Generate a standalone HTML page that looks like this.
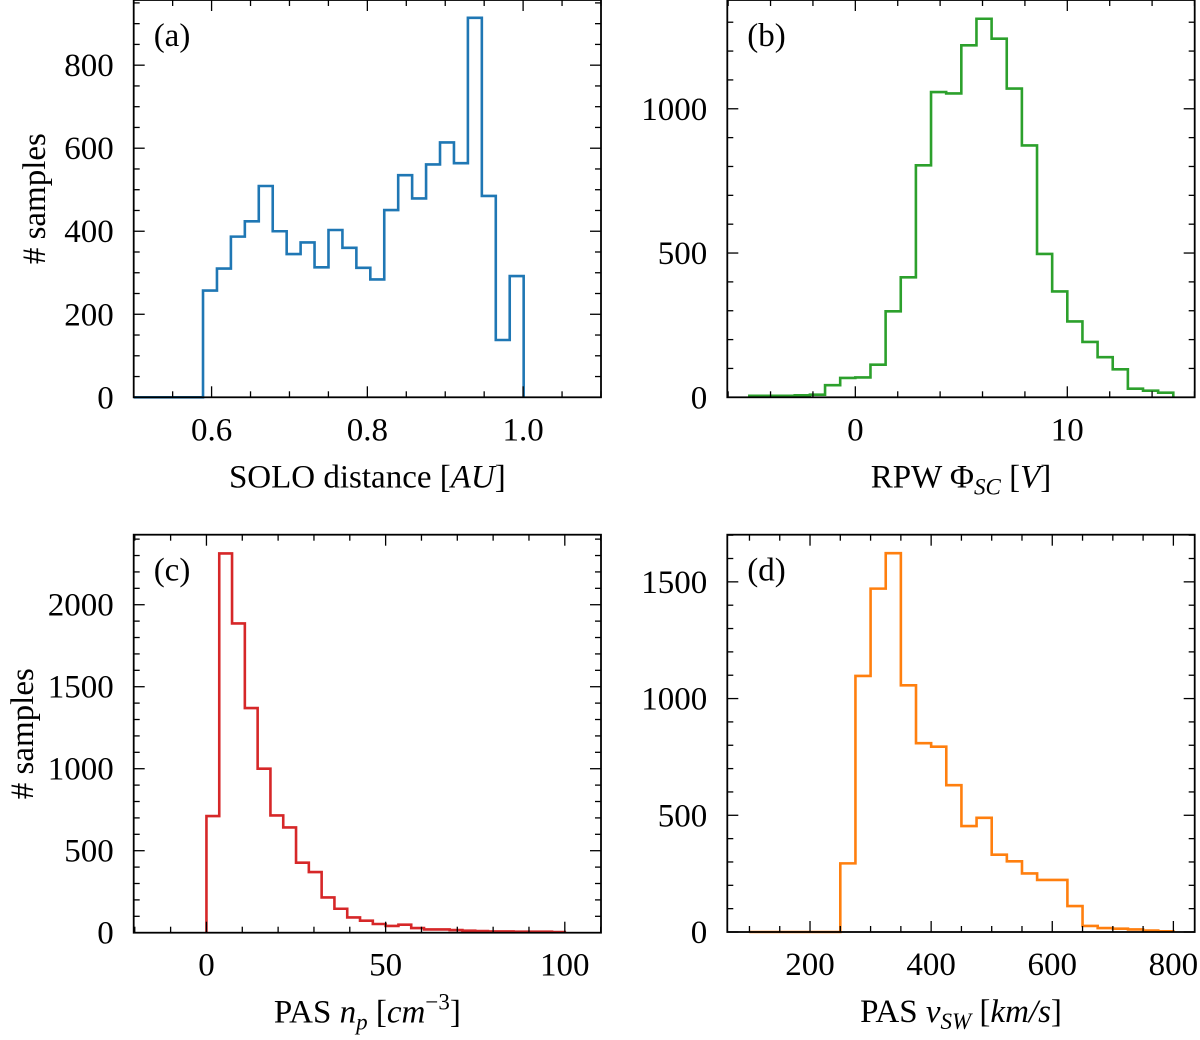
<!DOCTYPE html>
<html><head><meta charset="utf-8"><style>
html,body{margin:0;padding:0;background:#fff;}
svg, svg text{font-family:"Liberation Serif","Times New Roman",serif;}
</style></head><body>
<svg id="fig" width="1200" height="1035" viewBox="0 0 1200 1035" xmlns="http://www.w3.org/2000/svg" font-family="Liberation Serif, serif">
</svg>
<script>
// ---- data ----
const aCounts = [257,310,387,424,509,400,345,373,313,403,360,312,284,451,535,479,561,614,564,914,485,138,292];
const bCounts = [5,5,5,7,9,42,67,69,113,298,416,804,1058,1053,1220,1312,1243,1070,873,497,367,263,192,139,97,30,23,16];
const cCounts = [711,2313,1886,1370,1000,715,642,427,370,215,146,93,73,53,41,49,28,20,20,16,12,10,8,8,6,6,6,4];
const dCounts = [294,1097,1471,1623,1057,809,794,629,454,489,331,303,251,223,223,111,26,17,14,11,6,3];
const aXTicks = [0.6,0.8,1.0];
const aXTickLabels = ["0.6","0.8","1.0"];
const aYTicks = [0,200,400,600,800];
const bXTicks = [0,10];
const bYTicks = [0,500,1000];
const cXTicks = [0,50,100];
const cYTicks = [0,500,1000,1500,2000];
const dXTicks = [200,400,600,800];
const dYTicks = [0,500,1000,1500];

const NS = "http://www.w3.org/2000/svg";
const svg = document.getElementById('fig');
function el(tag, attrs, parent){
  const e = document.createElementNS(NS, tag);
  for (const k in attrs) e.setAttribute(k, attrs[k]);
  (parent||svg).appendChild(e);
  return e;
}
const FF = 'Liberation Serif, Times New Roman, serif';

function panel(p){
  const g = el('g', {});
  
  
  const X = v => p.L + (v - p.x0) / (p.x1 - p.x0) * (p.R - p.L);
  const Y = v => p.B - (v - p.y0) / (p.y1 - p.y0) * (p.B - p.T);
  let d = '';
  if (p.lead !== undefined) d += 'M' + X(p.lead) + ',' + Y(0) + 'L';
  else d += 'M';
  d += X(p.start) + ',' + Y(0);
  p.counts.forEach((c, i) => {
    const xa = X(p.start + i * p.width), xb = X(p.start + (i + 1) * p.width);
    d += 'L' + xa + ',' + Y(c) + 'L' + xb + ',' + Y(c);
  });
  d += 'L' + X(p.start + p.counts.length * p.width) + ',' + Y(0);
  const path = el('path', {d: d, fill: 'none', stroke: p.color, 'stroke-width': 2.6, 'stroke-linejoin': 'miter'}, g);
  
  
  const tg = el('g', {stroke: '#000', 'stroke-width': 1.3}, g);
  
  
  for (let v = p.xmStart; v <= p.x1 + 1e-9; v += p.xmStep) {
    if (v < p.x0 - 1e-9) continue;
    const major = p.xTicks.some(t => Math.abs(t - v) < p.xmStep / 10);
    const len = major ? 11 : 6;
    const x = X(v);
    el('line', {x1: x, y1: p.B, x2: x, y2: p.B - len}, tg);
    el('line', {x1: x, y1: p.T, x2: x, y2: p.T + len}, tg);
  }
  for (let v = p.y0; v <= p.y1 + 1e-9; v += p.ymStep) {
    const major = p.yTicks.some(t => Math.abs(t - v) < p.ymStep / 10);
    const len = major ? 11 : 6;
    const y = Y(v);
    el('line', {x1: p.L, y1: y, x2: p.L + len, y2: y}, tg);
    el('line', {x1: p.R, y1: y, x2: p.R - len, y2: y}, tg);
  }
  const fr = el('rect', {x: p.L, y: p.T, width: p.R - p.L, height: p.B - p.T, fill: 'none', stroke: '#000', 'stroke-width': 1.8}, g);
  
  
  p.xTicks.forEach((t, i) => {
    const tx = el('text', {x: X(t), y: p.B + 43, 'font-size': 33, 'text-anchor': 'middle', 'font-family': FF}, g);
    tx.textContent = p.xLabels ? p.xLabels[i] : String(t);
    
    
  });
  p.yTicks.forEach(t => {
    const tx = el('text', {x: p.L - 20, y: Y(t) + 11, 'font-size': 33, 'text-anchor': 'end', 'font-family': FF}, g);
    tx.textContent = String(t);
    
    
  });
  const pl = el('text', {x: p.L + 20, y: p.T + 46, 'font-size': 33, 'font-family': FF}, g);
  pl.textContent = p.letter;
  
  
  const xt = el('text', {x: (p.L + p.R) / 2, y: p.B + 90, 'font-size': 33, 'text-anchor': 'middle', 'font-family': FF}, g);
  xt.innerHTML = p.xTitle;
  
  
  if (p.yTitleX) {
    const cy = (p.T + p.B) / 2;
    const yt = el('text', {x: p.yTitleX, y: cy, 'font-size': 33, 'text-anchor': 'middle', 'font-family': FF, transform: 'rotate(-90 ' + p.yTitleX + ' ' + cy + ')'}, g);
    yt.textContent = '# samples';
    
    
  }
}

panel({name:'panel-a', letter:'(a)', color:'#1f77b4', counts:aCounts, start:0.589, width:0.0179, lead:0.5,
  L:133.7, R:601, T:0, B:397.3, x0:0.5, x1:1.1, y0:0, y1:957,
  xTicks:aXTicks, xLabels:aXTickLabels, xmStart:0.5, xmStep:0.05, yTicks:aYTicks, ymStep:50,
  xTitle:'SOLO distance [<tspan font-style="italic">AU</tspan>]', yTitleX:45});
panel({name:'panel-b', letter:'(b)', color:'#2ca02c', counts:bCounts, start:-5, width:20/28,
  L:727.3, R:1194.7, T:0, B:397.3, x0:-6.04, x1:16.01, y0:0, y1:1377,
  xTicks:bXTicks, xmStart:-6, xmStep:2, yTicks:bYTicks, ymStep:100,
  xTitle:'RPW Φ<tspan font-size="23" dy="7" font-style="italic">SC</tspan><tspan dy="-7"> [</tspan><tspan font-style="italic">V</tspan>]'});
panel({name:'panel-c', letter:'(c)', color:'#d62728', counts:cCounts, start:0, width:100/28,
  L:133.7, R:601, T:534.7, B:932.7, x0:-20.3, x1:110.1, y0:0, y1:2427,
  xTicks:cXTicks, xmStart:-20, xmStep:10, yTicks:cYTicks, ymStep:100,
  xTitle:'PAS <tspan font-style="italic">n</tspan><tspan font-size="23" dy="7" font-style="italic">p</tspan><tspan dy="-7"> [</tspan><tspan font-style="italic">cm</tspan><tspan font-size="23" dy="-13">−3</tspan><tspan dy="13">]</tspan>', yTitleX:33});
panel({name:'panel-d', letter:'(d)', color:'#ff7f0e', counts:dCounts, start:250, width:25, lead:100,
  L:727.3, R:1194.7, T:534.7, B:932, x0:63.4, x1:835.2, y0:0, y1:1702,
  xTicks:dXTicks, xmStart:100, xmStep:50, yTicks:dYTicks, ymStep:100,
  xTitle:'PAS <tspan font-style="italic">v</tspan><tspan font-size="23" dy="7" font-style="italic">SW</tspan><tspan dy="-7"> [</tspan><tspan font-style="italic">km/s</tspan>]'});
</script>
</body></html>
